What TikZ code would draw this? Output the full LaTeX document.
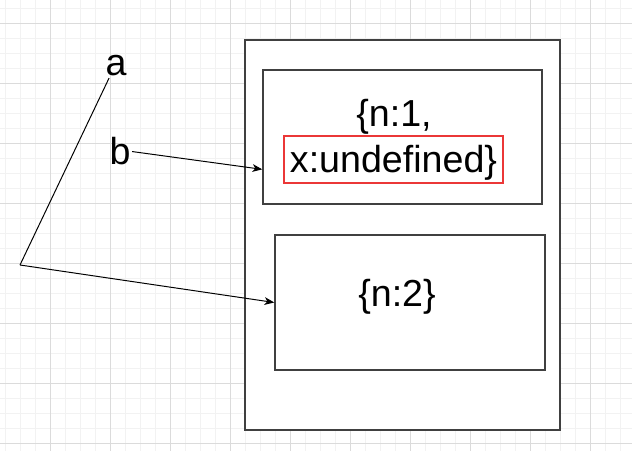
\documentclass[tikz,border=0pt]{standalone}
\usepackage{fontspec}
\setmainfont{Liberation Sans}
\usetikzlibrary{arrows.meta}
\definecolor{undefred}{RGB}{235,55,55}
\newcommand{\pixel}{0.025cm}

\begin{document}
\begin{tikzpicture}[x=\pixel, y=-\pixel,
  font=\fontsize{26.75}{32}\selectfont,
  minorgrid/.style={draw=black!5, line width=0.7pt},
  majorgrid/.style={draw=black!14, line width=0.7pt},
  frame/.style={draw=black!75, line width=1pt, fill=white, inner sep=0pt},
  txt/.style={anchor=base, inner sep=1pt},
  redbox/.style={draw=undefred, line width=1.6pt, inner xsep=4.3pt, inner ysep=2.1pt,
    text height=23.5pt, text depth=5.7pt},
  link/.style={draw, line width=0.7pt, -{Stealth[length=7pt,width=5.5pt,inset=2pt]}}]
\useasboundingbox (0,0) rectangle (632,451);

% grid
\foreach \x in {5,20,...,630} \path[minorgrid] (\x,0) -- (\x,451);
\foreach \y in {8,23,...,450} \path[minorgrid] (0,\y) -- (632,\y);
\foreach \x in {50,110,...,590} \path[majorgrid] (\x,0) -- (\x,451);
\foreach \y in {23,83,...,443} \path[majorgrid] (0,\y) -- (632,\y);

\node[frame, minimum width=315*\pixel, minimum height=390*\pixel] (heap) at (402.5,235) {};
\node[frame, minimum width=279*\pixel, minimum height=134*\pixel] (obj1) at (402.5,137) {};
\node[frame, minimum width=270*\pixel, minimum height=135*\pixel] (obj2) at (410,302.5) {};

\node[txt] (n1) at (394,127) {\{n:1,};
\node[redbox] (undef) at (393.5,159.5) {x:undefined\}};
\node[txt] (n2) at (397,307) {\{n:2\}};

\node[txt] (a) at (116,76) {a};
\node[txt] (b) at (120,165) {b};
\coordinate (bend) at (20,265);

\path[draw, line width=0.7pt] (a.240) -- (bend);
\path[link] (bend) -- (obj2.west);
\path[link] (b.east) -- (obj1.193.7);
\end{tikzpicture}
\end{document}
